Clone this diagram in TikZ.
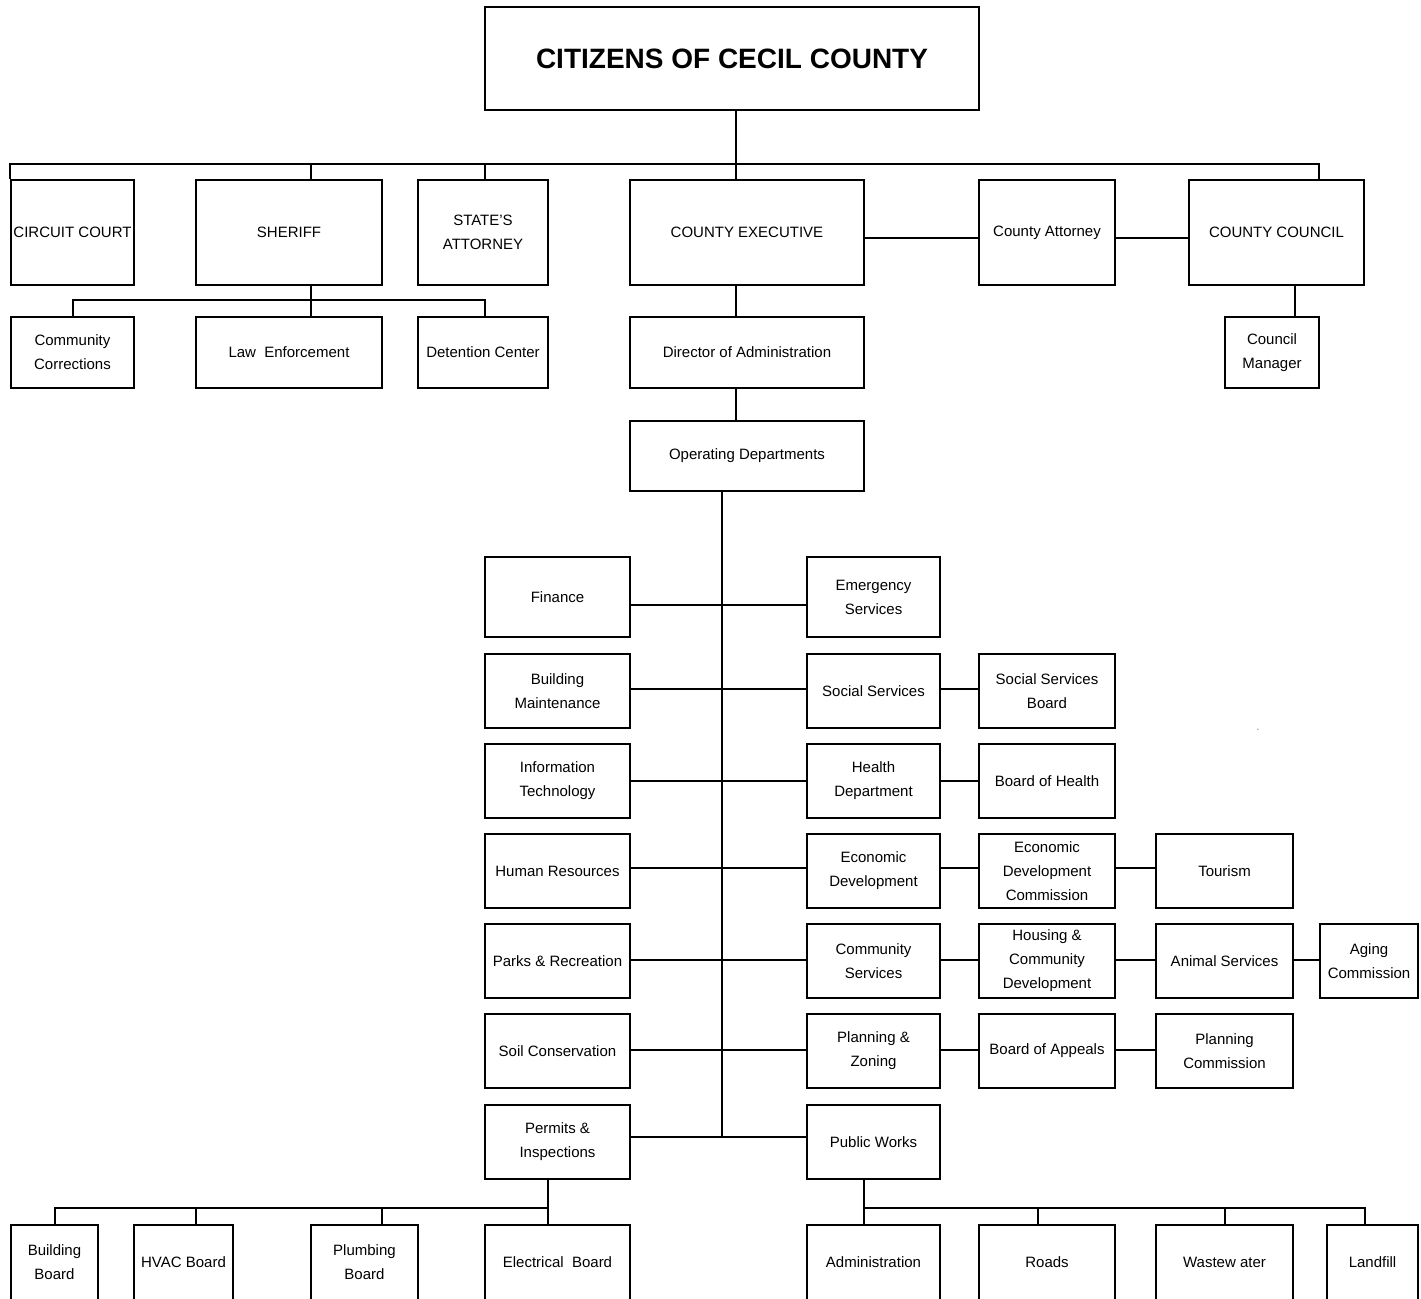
\documentclass[tikz,border=0pt]{standalone}
\usepackage{fontspec}
\setmainfont{Liberation Sans}
\usetikzlibrary{positioning}

\begin{document}
\begin{tikzpicture}[x=1pt, y=-1pt, every node/.style={align=center},
    box/.style={draw, line width=2pt, inner sep=1pt, font=\fontsize{15}{24}\selectfont},
    link/.style={line width=2pt},
    toprow/.style={box, minimum height=105pt},
    subrow/.style={box, minimum height=71pt},
    deptL/.style={box, minimum width=145pt, minimum height=74pt},
    deptR/.style={box, minimum width=133pt, minimum height=74pt},
    boardA/.style={box, minimum width=136pt, minimum height=74pt},
    boardB/.style={box, minimum width=137pt, minimum height=74pt},
    botrow/.style={box, minimum height=75pt}]
  \useasboundingbox (0,0) rectangle (1421,1298);
  % Nodes
  \node[box, font=\fontsize{28}{34}\selectfont\bfseries, minimum width=494pt, minimum height=103pt] (citizens) at (732,58.5) {CITIZENS OF CECIL COUNTY};

  \node[toprow, minimum width=123pt] (court) at (72.5,232.5) {CIRCUIT COURT};
  \node[toprow, minimum width=186pt] (sheriff) at (289,232.5) {SHERIFF};
  \node[toprow, minimum width=130pt] (states) at (483,232.5) {STATE'S\\ATTORNEY};
  \node[toprow, minimum width=234pt] (exec) at (747,232.5) {COUNTY EXECUTIVE};
  \node[toprow, minimum width=136pt] (cattorney) at (1047,232.5) {County Attorney};
  \node[toprow, minimum width=175pt] (council) at (1276.5,232.5) {COUNTY COUNCIL};

  \node[subrow, minimum width=123pt] (commcorr) at (72.5,352.5) {Community\\Corrections};
  \node[subrow, minimum width=186pt] (lawenf) at (289,352.5) {Law~~Enforcement};
  \node[subrow, minimum width=130pt] (detention) at (483,352.5) {Detention Center};
  \node[subrow, minimum width=234pt] (director) at (747,352.5) {Director of Administration};
  \node[subrow, minimum width=94pt] (manager) at (1272,352.5) {Council\\Manager};

  \node[box, minimum width=234pt, minimum height=70pt] (ops) at (747,456) {Operating Departments};

  \node[deptL, minimum height=80pt] (finance) at (557.5,597) {Finance};
  \node[deptR, minimum height=80pt] (emergency) at (873.5,597) {Emergency\\Services};

  \node[deptL] (bldgmaint) at (557.5,691) {Building\\Maintenance};
  \node[deptR] (social) at (873.5,691) {Social Services};
  \node[boardA] (socialboard) at (1047,691) {Social Services\\Board};

  \node[deptL] (infotech) at (557.5,781) {Information\\Technology};
  \node[deptR] (health) at (873.5,781) {Health\\Department};
  \node[boardA] (healthboard) at (1047,781) {Board of Health};

  \node[deptL] (hr) at (557.5,871) {Human Resources};
  \node[deptR] (econdev) at (873.5,871) {Economic\\Development};
  \node[boardA] (edc) at (1047,871) {Economic\\Development\\Commission};
  \node[boardB] (tourism) at (1224.5,871) {Tourism};

  \node[deptL] (parks) at (557.5,961) {Parks \& Recreation};
  \node[deptR] (commsvc) at (873.5,961) {Community\\Services};
  \node[boardA] (housing) at (1047,961) {Housing \&\\Community\\Development};
  \node[boardB] (animal) at (1224.5,961) {Animal Services};
  \node[box, minimum width=98pt, minimum height=74pt] (aging) at (1369,961) {Aging\\Commission};

  \node[deptL] (soil) at (557.5,1051) {Soil Conservation};
  \node[deptR] (planzone) at (873.5,1051) {Planning \&\\Zoning};
  \node[boardA] (appeals) at (1047,1051) {Board of Appeals};
  \node[boardB] (plancomm) at (1224.5,1051) {Planning\\Commission};

  \node[deptL] (permits) at (557.5,1142) {Permits \&\\Inspections};
  \node[deptR] (works) at (873.5,1142) {Public Works};

  \node[botrow, minimum width=87pt] (bldgboard) at (54.5,1262.5) {Building\\Board};
  \node[botrow, minimum width=99pt] (hvac) at (183.5,1262.5) {HVAC Board};
  \node[botrow, minimum width=107pt] (plumbing) at (364.5,1262.5) {Plumbing\\Board};
  \node[botrow, minimum width=145pt] (electrical) at (557.5,1262.5) {Electrical~~Board};
  \node[botrow, minimum width=133pt] (admin) at (873.5,1262.5) {Administration};
  \node[botrow, minimum width=136pt] (roads) at (1047,1262.5) {Roads};
  \node[botrow, minimum width=137pt] (waste) at (1224.5,1262.5) {Wastew ater};
  \node[botrow, minimum width=91pt] (landfill) at (1372.5,1262.5) {Landfill};

  \node[font=\scriptsize, inner sep=0pt] (tick) at (1258,732) {\textasciigrave};

  % Lines
  \coordinate (topbus) at (0,164);
  \draw[link] ([xshift=4pt]citizens.south) -- ([xshift=4pt]citizens.south |- exec.north);
  \draw[link] (court.north west) -- (court.north west |- topbus) -- ([xshift=42pt]council.north |- topbus) -- ([xshift=42pt]council.north);
  \foreach \n/\dx in {sheriff/22, states/2}
    \draw[link] ([xshift=\dx pt]\n.north) -- ([xshift=\dx pt]\n.north |- topbus);

  \draw[link] ([xshift=22pt]sheriff.south) -- ([xshift=22pt]lawenf.north);
  \draw[link] (commcorr.north) -- ++(0,-16) -| ([xshift=2pt]detention.north);

  \draw[link] ([yshift=-5pt]exec.east) -- ([yshift=-5pt]cattorney.west);
  \draw[link] ([yshift=-5pt]cattorney.east) -- ([yshift=-5pt]council.west);
  \draw[link] ([xshift=18pt]council.south) -- ([xshift=18pt]council.south |- manager.north);

  \draw[link] ([xshift=-11pt]exec.south) -- ([xshift=-11pt]director.north);
  \draw[link] ([xshift=-11pt]director.south) -- ([xshift=-11pt]ops.north);

  \coordinate (spinetop) at ([xshift=-25pt]ops.south);
  \coordinate (rowend) at ([yshift=5pt]permits.east);
  \draw[link] (spinetop) -- (spinetop |- rowend);

  \foreach \l/\r/\dy in {finance/emergency/-8, bldgmaint/social/2, infotech/health/0, hr/econdev/3, parks/commsvc/1, soil/planzone/1, permits/works/5}
    \draw[link] ([yshift=\dy pt]\l.east) -- ([yshift=\dy pt]\r.west);

  \foreach \l/\r/\dy in {social/socialboard/2, health/healthboard/0, econdev/edc/3, edc/tourism/3, commsvc/housing/1, housing/animal/1, animal/aging/1, planzone/appeals/1, appeals/plancomm/1}
    \draw[link] ([yshift=\dy pt]\l.east) -- ([yshift=\dy pt]\r.west);

  \draw[link] ([xshift=-10pt]permits.south) -- ([xshift=-10pt]electrical.north);
  \draw[link] (bldgboard.north) -- ++(0,-16) -| ([xshift=-10pt]electrical.north);
  \foreach \n/\dx in {hvac/12, plumbing/17}
    \draw[link] ([xshift=\dx pt]\n.north) -- ++(0,-16);

  \draw[link] ([xshift=-10pt]works.south) -- ([xshift=-10pt]admin.north);
  \draw[link] ([xshift=-10pt]admin.north) -- ++(0,-16) -| ([xshift=-8pt]landfill.north);
  \foreach \n/\dx in {roads/-9, waste/0}
    \draw[link] ([xshift=\dx pt]\n.north) -- ++(0,-16);
\end{tikzpicture}
\end{document}
